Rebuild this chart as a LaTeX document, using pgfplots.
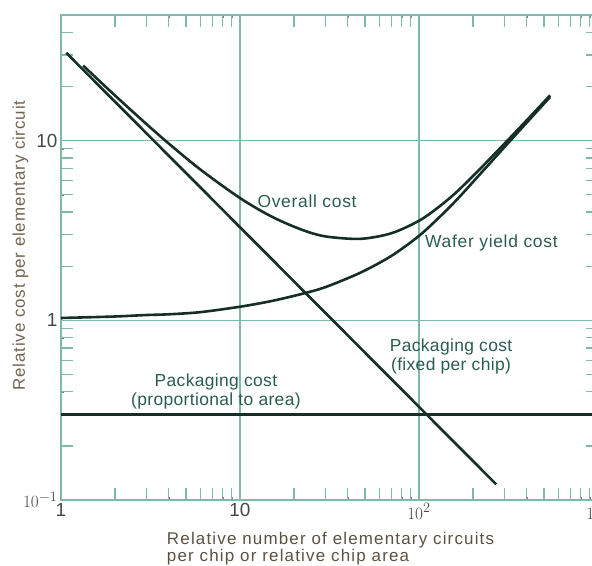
\documentclass[border=0pt]{standalone}
\usepackage{fontspec}
\setmainfont{Liberation Sans}
\usepackage{pgfplots}
\pgfplotsset{compat=1.18}
\definecolor{gridteal}{RGB}{125,186,170}
\definecolor{curveink}{RGB}{22,46,40}
\definecolor{labteal}{RGB}{42,92,80}
\definecolor{axlab}{RGB}{112,102,80}
\definecolor{ticklab}{RGB}{66,74,68}

\begin{document}
\begin{tikzpicture}
\begin{axis}[
    name=ax,
    xmode=log, ymode=log,
    scale only axis,
    width=537bp, height=485bp,
    xmin=1, xmax=1000,
    ymin=0.1, ymax=50,
    axis line style={gridteal, line width=1.4bp},
    grid=major,
    major grid style={gridteal, line width=1.3bp},
    xtick={1,10,100,1000},
    xticklabels={1,10,$10^2$,$10^3$},
    ytick={0.1,1,10},
    yticklabels={$10^{-1}$,1,10},
    tickwidth=12bp,
    major tick length=12bp,
    tick align=inside,
    major tick style={gridteal, line width=1.3bp},
    minor tick num=0,
    extra x ticks={2,3,4,5,6,7,8,9,20,30,40,50,60,70,80,90,200,300,400,500,600,700,800,900},
    extra y ticks={0.2,0.3,0.4,0.5,0.6,0.7,0.8,0.9,2,3,4,5,6,7,8,9,20,30,40},
    extra x tick labels={},
    extra y tick labels={},
    extra tick style={grid=none, tickwidth=12bp},
    tick label style={font=\fontsize{19}{19}\selectfont, text=ticklab},
    xlabel={Relative number of elementary circuits\\per chip or relative chip area},
    xlabel style={font=\fontsize{17}{16.5}\selectfont\addfontfeature{LetterSpace=7},
        text=axlab!80!black, align=left, inner sep=0pt,
        at={(axis description cs:0.197,-0.067)}, anchor=north west},
    ylabel={Relative cost per elementary circuit},
    ylabel style={font=\fontsize{17}{17}\selectfont\addfontfeature{LetterSpace=5},
        text=axlab, inner sep=0pt,
        at={(axis description cs:-0.0752,0.5247)}, anchor=center},
]
% packaging cost, proportional to area
\addplot[curveink, line width=2.6bp] coordinates {(1,0.3) (1000,0.3)};
% packaging cost, fixed per chip
\addplot[curveink, line width=2.6bp] coordinates {(1.07,30.8) (270,0.1222)};
% wafer yield cost
\addplot[curveink, line width=2.6bp, smooth] coordinates {
    (1,1.03) (2,1.05) (3,1.07) (4,1.08) (6,1.11) (10,1.19) (15,1.28)
    (22,1.40) (30,1.53) (47,1.84) (70,2.28) (100,2.95) (130,3.75)
    (163,4.70) (220,6.53) (306,9.40) (400,12.6) (540,17.5)
};
% overall cost
\addplot[curveink, line width=2.6bp, smooth] coordinates {
    (1.33,26.15) (1.5,23.34) (2,17.85) (3,12.37) (4,9.63) (6,6.91)
    (10,4.79) (15,3.78) (22,3.20) (30,2.93) (47,2.84) (70,3.05)
    (100,3.58) (130,4.30) (163,5.20) (220,6.98) (306,9.81) (400,12.98)
    (540,17.86)
};
\node[text=labteal, font=\fontsize{17.5}{19.5}\selectfont\addfontfeature{LetterSpace=4}]
    at (axis cs:23.7,4.6) {Overall cost};
\node[text=labteal, anchor=west, inner sep=0pt,
    font=\fontsize{17.5}{19.5}\selectfont\addfontfeature{LetterSpace=4}]
    at (axis cs:108,2.71) {Wafer yield cost};
\node[text=labteal, align=center,
    font=\fontsize{17.5}{19}\selectfont\addfontfeature{LetterSpace=2}]
    at (axis cs:151,0.63) {Packaging cost\\(fixed per chip)};
\node[text=labteal, align=center,
    font=\fontsize{17.5}{19}\selectfont\addfontfeature{LetterSpace=2}]
    at (axis cs:7.34,0.40) {Packaging cost\\(proportional to area)};
\end{axis}
\pgfresetboundingbox
\path ([shift={(-61bp,-66bp)}]ax.south west) rectangle ++(592bp,566bp);
\end{tikzpicture}
\end{document}
